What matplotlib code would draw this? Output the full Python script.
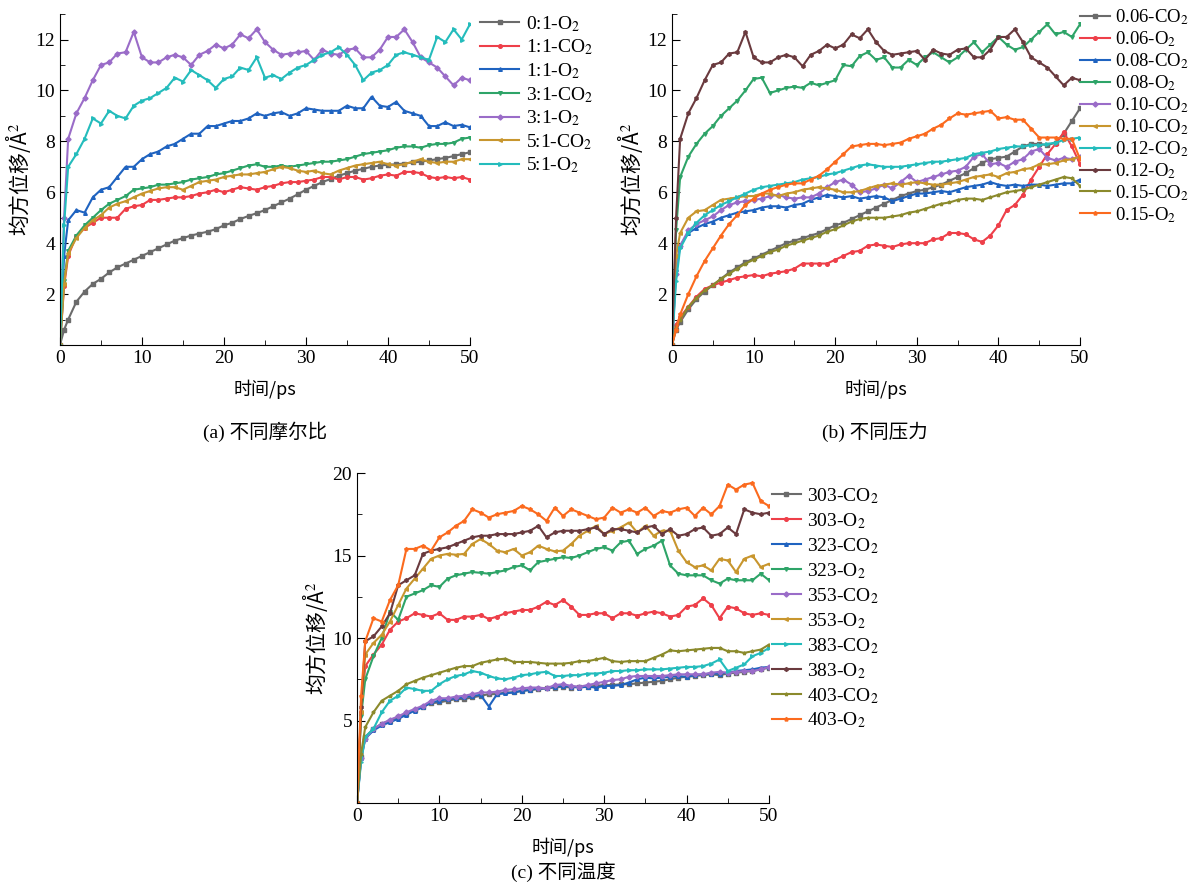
import matplotlib.pyplot as plt
from matplotlib.ticker import MultipleLocator

plt.rcParams['font.family'] = ['Liberation Serif', 'Noto Sans CJK SC']
plt.rcParams['mathtext.fontset'] = 'stix'

# 时间轴 (ps)
t = [0, 0.5] + list(range(1, 51))

# ---------- (a) 不同摩尔比 ----------
a_01_O2 = [0, 0.6, 1.0, 1.7, 2.1, 2.4, 2.6, 2.85, 3.05, 3.2, 3.35, 3.5, 3.65, 3.8, 3.95, 4.1, 4.2, 4.3,
           4.38, 4.45, 4.55, 4.7, 4.8, 4.95, 5.07, 5.18, 5.3, 5.45, 5.6, 5.75, 5.92, 6.1, 6.25, 6.4,
           6.52, 6.65, 6.75, 6.85, 6.92, 7.0, 7.05, 7.08, 7.1, 7.13, 7.17, 7.2, 7.25, 7.3, 7.35, 7.42,
           7.5, 7.57]
a_11_CO2 = [0, 2.3, 3.5, 4.3, 4.6, 4.8, 5.0, 5.0, 5.0, 5.35, 5.45, 5.5, 5.7, 5.7, 5.75, 5.8, 5.8, 5.85,
            5.95, 6.0, 6.1, 6.0, 6.1, 6.2, 6.15, 6.1, 6.2, 6.25, 6.35, 6.4, 6.4, 6.45, 6.5, 6.6, 6.6,
            6.5, 6.6, 6.6, 6.5, 6.55, 6.65, 6.7, 6.65, 6.8, 6.8, 6.75, 6.6, 6.55, 6.6, 6.55, 6.6, 6.5]
a_11_O2 = [0, 3.5, 4.9, 5.3, 5.2, 5.8, 6.1, 6.2, 6.6, 7.0, 7.0, 7.3, 7.5, 7.6, 7.8, 7.9, 8.1, 8.3,
           8.3, 8.6, 8.6, 8.7, 8.8, 8.8, 8.9, 9.1, 9.0, 9.1, 9.15, 9.0, 9.1, 9.3, 9.25, 9.2, 9.2, 9.2,
           9.4, 9.3, 9.3, 9.75, 9.4, 9.35, 9.55, 9.2, 9.1, 9.0, 8.6, 8.6, 8.75, 8.6, 8.65, 8.55]
a_31_CO2 = [0, 2.5, 3.7, 4.3, 4.7, 5.0, 5.3, 5.55, 5.7, 5.85, 6.1, 6.15, 6.2, 6.3, 6.3, 6.35, 6.4, 6.5,
            6.55, 6.6, 6.7, 6.75, 6.85, 6.95, 7.05, 7.1, 7.0, 7.0, 7.05, 7.0, 7.05, 7.1, 7.15, 7.2,
            7.2, 7.25, 7.3, 7.4, 7.5, 7.55, 7.6, 7.65, 7.75, 7.8, 7.8, 7.75, 7.85, 7.9, 7.9, 7.95, 8.1,
            8.15]
a_31_O2 = [0, 5.0, 8.1, 9.1, 9.7, 10.4, 11.0, 11.1, 11.45, 11.5, 12.3, 11.3, 11.1, 11.1, 11.3, 11.4,
           11.3, 11.0, 11.4, 11.55, 11.8, 11.65, 11.8, 12.2, 12.05, 12.4, 11.9, 11.6, 11.4, 11.45,
           11.5, 11.55, 11.2, 11.6, 11.45, 11.4, 11.6, 11.65, 11.3, 11.3, 11.6, 12.1, 12.1, 12.4,
           11.9, 11.3, 11.1, 10.9, 10.55, 10.2, 10.5, 10.4]
a_51_CO2 = [0, 2.4, 3.6, 4.2, 4.6, 4.9, 5.1, 5.4, 5.55, 5.65, 5.8, 5.95, 6.05, 6.15, 6.2, 6.2, 6.1,
            6.25, 6.4, 6.45, 6.5, 6.6, 6.65, 6.7, 6.7, 6.75, 6.8, 6.9, 7.0, 6.95, 6.85, 6.8, 6.85,
            6.75, 6.7, 6.85, 6.95, 7.05, 7.1, 7.15, 7.2, 7.1, 7.05, 7.1, 7.2, 7.3, 7.2, 7.15, 7.2, 7.2,
            7.3, 7.3]
a_51_O2 = [0, 4.7, 7.0, 7.5, 8.1, 8.9, 8.7, 9.2, 9.0, 8.9, 9.4, 9.6, 9.7, 9.9, 10.1, 10.5, 10.35,
           10.8, 10.6, 10.4, 10.1, 10.45, 10.55, 10.9, 10.8, 11.3, 10.5, 10.6, 10.45, 10.7, 10.9, 11.0,
           11.2, 11.4, 11.5, 11.7, 11.4, 11.0, 10.4, 10.7, 10.8, 11.0, 11.4, 11.5, 11.4, 11.3, 11.2,
           12.1, 11.9, 12.4, 12.0, 12.6]
labels_a = ['0:1-O$_2$', '1:1-CO$_2$', '1:1-O$_2$', '3:1-CO$_2$', '3:1-O$_2$', '5:1-CO$_2$', '5:1-O$_2$']

# ---------- (b) 不同压力 ----------
b_006_CO2 = [0, 0.6, 0.9, 1.4, 1.8, 2.1, 2.35, 2.6, 2.85, 3.05, 3.25, 3.4, 3.55, 3.7, 3.85, 4.0, 4.1,
             4.2, 4.3, 4.4, 4.55, 4.7, 4.8, 4.95, 5.1, 5.25, 5.4, 5.55, 5.7, 5.85, 5.95, 6.05, 6.1,
             6.2, 6.3, 6.45, 6.6, 6.75, 6.95, 7.15, 7.3, 7.35, 7.4, 7.6, 7.8, 7.9, 7.9, 7.85, 7.95,
             8.3, 8.8, 9.3]
b_006_O2 = [0, 0.8, 1.1, 1.5, 1.9, 2.2, 2.35, 2.45, 2.55, 2.65, 2.7, 2.75, 2.7, 2.8, 2.85, 2.9, 3.0,
            3.2, 3.2, 3.2, 3.2, 3.35, 3.5, 3.65, 3.7, 3.9, 3.95, 3.9, 3.85, 3.95, 4.0, 4.0, 4.0, 4.15,
            4.2, 4.4, 4.4, 4.35, 4.15, 4.05, 4.3, 4.7, 5.3, 5.5, 5.9, 6.5, 7.0, 7.5, 7.9, 8.35, 7.8,
            7.1]
b_008_CO2 = [0, 3.0, 3.9, 4.4, 4.6, 4.75, 4.85, 5.0, 5.1, 5.2, 5.25, 5.3, 5.4, 5.45, 5.45, 5.4, 5.5,
             5.55, 5.7, 5.8, 5.9, 5.85, 5.8, 5.85, 5.75, 5.8, 5.85, 5.8, 5.65, 5.75, 5.85, 5.95, 5.95,
             6.0, 6.05, 6.0, 6.1, 6.2, 6.25, 6.3, 6.4, 6.3, 6.25, 6.3, 6.25, 6.3, 6.3, 6.25, 6.3, 6.35,
             6.35, 6.5]
b_008_O2 = [0, 4.5, 6.6, 7.4, 7.9, 8.3, 8.6, 9.0, 9.3, 9.6, 10.0, 10.45, 10.5, 9.9, 10.0, 10.1,
            10.15, 10.1, 10.3, 10.2, 10.3, 10.4, 11.0, 10.95, 11.35, 11.5, 11.2, 11.3, 10.9, 10.9,
            11.2, 11.0, 11.3, 11.5, 11.3, 11.1, 11.3, 11.6, 11.9, 11.5, 11.8, 12.1, 11.8, 11.6, 11.7,
            12.0, 12.3, 12.6, 12.2, 12.3, 12.1, 12.6]
b_010_CO2 = [0, 2.8, 3.9, 4.5, 4.75, 4.9, 5.05, 5.3, 5.5, 5.6, 5.65, 5.7, 5.75, 5.85, 5.9, 5.8, 5.75,
             5.8, 5.8, 5.95, 6.2, 6.4, 6.5, 6.3, 6.0, 6.05, 6.15, 6.3, 6.15, 6.4, 6.65, 6.4, 6.5, 6.6,
             6.7, 6.8, 6.85, 7.0, 7.4, 7.5, 7.1, 7.15, 7.0, 7.2, 7.3, 7.6, 7.7, 7.35, 7.25, 7.35, 7.3,
             7.4]
b_010_CO2b = [0, 3.5, 4.4, 5.0, 5.25, 5.3, 5.5, 5.7, 5.75, 5.8, 5.85, 5.85, 5.95, 5.95, 5.85, 5.95,
              6.0, 6.1, 6.15, 6.2, 6.15, 6.1, 6.0, 6.0, 6.05, 6.15, 6.25, 6.3, 6.35, 6.3, 6.35, 6.4,
              6.35, 6.3, 6.3, 6.35, 6.4, 6.5, 6.6, 6.65, 6.7, 6.6, 6.75, 6.8, 6.9, 6.95, 7.1, 7.1,
              7.15, 7.25, 7.3, 7.4]
b_012_CO2 = [0, 2.5, 3.8, 4.4, 4.8, 5.1, 5.3, 5.5, 5.65, 5.8, 5.95, 6.1, 6.2, 6.25, 6.3, 6.35, 6.4,
             6.5, 6.55, 6.6, 6.7, 6.75, 6.85, 6.95, 7.05, 7.1, 7.05, 7.0, 7.0, 7.0, 7.05, 7.1, 7.15,
             7.2, 7.2, 7.25, 7.3, 7.35, 7.5, 7.55, 7.6, 7.7, 7.75, 7.8, 7.8, 7.85, 7.85, 7.9, 7.95,
             8.05, 8.1, 8.15]
b_012_O2 = [0, 5.0, 8.1, 9.1, 9.7, 10.4, 11.0, 11.1, 11.45, 11.5, 12.3, 11.3, 11.1, 11.1, 11.3,
            11.4, 11.3, 10.95, 11.4, 11.55, 11.8, 11.65, 11.8, 12.2, 12.05, 12.4, 11.9, 11.55, 11.4,
            11.45, 11.5, 11.55, 11.2, 11.6, 11.45, 11.4, 11.6, 11.65, 11.3, 11.3, 11.6, 12.1, 12.1,
            12.4, 11.9, 11.3, 11.1, 10.9, 10.55, 10.2, 10.5, 10.4]
b_015_CO2 = [0, 0.7, 1.0, 1.5, 1.85, 2.15, 2.35, 2.6, 2.8, 3.0, 3.2, 3.35, 3.5, 3.65, 3.75, 3.9,
             4.0, 4.1, 4.2, 4.3, 4.45, 4.55, 4.7, 4.85, 4.95, 5.0, 5.0, 5.0, 5.05, 5.1, 5.2, 5.25,
             5.35, 5.45, 5.55, 5.6, 5.7, 5.75, 5.75, 5.7, 5.8, 5.9, 6.0, 6.05, 6.1, 6.2, 6.3, 6.4,
             6.5, 6.6, 6.55, 6.25]
b_015_O2 = [0, 0.6, 1.2, 2.0, 2.7, 3.3, 3.8, 4.3, 4.75, 5.1, 5.5, 5.75, 5.95, 6.1, 6.2, 6.3, 6.35,
            6.35, 6.5, 6.65, 6.9, 7.2, 7.5, 7.8, 7.85, 7.9, 7.9, 7.85, 7.9, 7.95, 8.1, 8.2, 8.3, 8.5,
            8.65, 8.9, 9.1, 9.05, 9.1, 9.15, 9.2, 8.9, 8.95, 8.85, 8.85, 8.5, 8.15, 8.15, 8.15, 8.1,
            8.1, 7.3]
labels_b = ['0.06-CO$_2$', '0.06-O$_2$', '0.08-CO$_2$', '0.08-O$_2$', '0.10-CO$_2$', '0.10-CO$_2$',
            '0.12-CO$_2$', '0.12-O$_2$', '0.15-CO$_2$', '0.15-O$_2$']

# ---------- (c) 不同温度 ----------
c_303_CO2 = [0, 2.8, 4.0, 4.5, 4.8, 5.0, 5.2, 5.4, 5.65, 5.85, 6.05, 6.1, 6.2, 6.3, 6.3, 6.4, 6.5,
             6.6, 6.6, 6.7, 6.7, 6.8, 6.85, 6.9, 6.95, 7.0, 7.05, 7.0, 7.05, 7.05, 7.1, 7.15, 7.15,
             7.2, 7.2, 7.25, 7.3, 7.35, 7.4, 7.5, 7.6, 7.65, 7.7, 7.75, 7.8, 7.75, 7.85, 7.9, 7.95,
             8.0, 8.1, 8.2]
c_303_O2 = [0, 5.5, 8.3, 9.0, 9.6, 10.5, 11.0, 11.2, 11.5, 11.4, 11.3, 11.5, 11.1, 11.1, 11.3,
            11.3, 11.4, 11.15, 11.3, 11.5, 11.6, 11.7, 11.7, 11.9, 12.2, 12.0, 12.3, 11.9, 11.4,
            11.4, 11.5, 11.5, 11.2, 11.5, 11.5, 11.35, 11.5, 11.6, 11.5, 11.3, 11.4, 11.9, 12.0,
            12.4, 12.0, 11.2, 11.9, 11.8, 11.5, 11.4, 11.5, 11.4]
c_323_CO2 = [0, 2.7, 3.9, 4.4, 4.7, 4.9, 5.1, 5.35, 5.6, 5.8, 6.1, 6.2, 6.3, 6.35, 6.4, 6.5, 6.55,
             5.85, 6.6, 6.65, 6.7, 6.8, 6.85, 6.95, 6.95, 7.05, 7.1, 7.05, 7.0, 7.05, 7.0, 7.1, 7.1,
             7.15, 7.3, 7.5, 7.6, 7.55, 7.6, 7.65, 7.7, 7.65, 7.75, 7.8, 7.85, 7.85, 7.9, 8.0, 8.05,
             8.1, 8.2, 8.25]
c_323_O2 = [0, 5.3, 7.5, 8.9, 10.0, 11.6, 11.1, 12.5, 12.7, 12.9, 13.2, 13.1, 13.6, 13.8, 13.9,
            14.0, 13.95, 13.9, 14.0, 14.1, 14.3, 14.4, 14.1, 14.6, 14.7, 14.8, 14.9, 14.85, 15.0,
            15.2, 15.4, 15.5, 15.3, 15.8, 15.9, 15.1, 15.4, 15.6, 15.9, 14.4, 13.9, 13.8, 13.8, 13.8,
            13.5, 13.3, 13.6, 13.5, 13.5, 13.5, 13.9, 13.5]
c_353_CO2 = [0, 2.7, 3.9, 4.5, 4.8, 5.05, 5.25, 5.5, 5.7, 5.9, 6.2, 6.35, 6.35, 6.45, 6.5, 6.6,
             6.7, 6.7, 6.75, 6.85, 6.9, 6.95, 7.0, 7.0, 6.95, 7.15, 7.2, 7.1, 7.05, 7.15, 7.25, 7.35,
             7.45, 7.5, 7.65, 7.7, 7.7, 7.7, 7.7, 7.75, 7.8, 7.8, 7.8, 7.8, 7.9, 7.95, 7.9, 7.95, 8.0,
             8.0, 8.1, 8.25]
c_353_O2 = [0, 5.5, 9.0, 9.7, 10.2, 11.0, 12.0, 13.0, 13.6, 14.2, 14.8, 15.0, 15.1, 15.05, 15.1,
            15.7, 16.0, 15.7, 15.3, 15.2, 15.4, 15.0, 15.2, 15.6, 15.4, 15.25, 15.3, 15.7, 16.2,
            16.5, 16.8, 16.3, 16.5, 16.7, 17.0, 16.4, 16.8, 16.2, 16.5, 16.5, 15.3, 14.6, 14.3, 14.4,
            14.1, 14.8, 14.7, 14.0, 14.8, 15.0, 14.3, 14.5]
c_383_CO2 = [0, 2.5, 4.0, 4.5, 5.5, 6.2, 6.5, 7.0, 6.9, 6.8, 6.8, 7.2, 7.5, 7.7, 7.8, 8.0, 7.9,
             7.7, 7.55, 7.5, 7.6, 7.75, 7.8, 7.9, 7.95, 7.7, 7.7, 7.75, 7.75, 7.85, 7.85, 7.9, 8.0,
             8.0, 8.05, 8.05, 8.1, 8.1, 8.1, 8.15, 8.2, 8.25, 8.25, 8.3, 8.45, 8.7, 8.0, 8.2, 8.4,
             8.9, 9.1, 9.4]
c_383_O2 = [0, 5.8, 9.8, 10.1, 10.7, 11.5, 13.2, 13.5, 13.8, 15.1, 15.3, 15.4, 15.5, 15.7, 15.9,
            16.1, 16.2, 16.2, 16.3, 16.3, 16.3, 16.4, 16.5, 16.8, 16.1, 16.4, 16.5, 16.5, 16.5, 16.6,
            16.7, 16.3, 16.6, 16.6, 16.5, 16.4, 16.7, 16.8, 16.3, 16.6, 16.2, 16.3, 16.6, 16.7, 16.2,
            16.3, 16.7, 16.3, 17.8, 17.6, 17.5, 17.6]
c_403_CO2 = [0, 3.0, 4.6, 5.5, 6.2, 6.5, 6.8, 7.2, 7.4, 7.6, 7.75, 7.9, 8.05, 8.2, 8.3, 8.3, 8.5,
             8.6, 8.7, 8.75, 8.55, 8.55, 8.55, 8.5, 8.45, 8.45, 8.45, 8.5, 8.6, 8.6, 8.7, 8.8, 8.6,
             8.55, 8.6, 8.6, 8.6, 8.8, 9.0, 9.25, 9.2, 9.25, 9.3, 9.35, 9.4, 9.4, 9.2, 9.2, 9.1, 9.2,
             9.3, 9.6]
c_403_O2 = [0, 6.5, 9.8, 11.2, 11.0, 12.3, 13.2, 15.4, 15.4, 15.6, 15.3, 16.1, 16.4, 16.8, 17.1,
            17.8, 17.6, 17.3, 17.5, 17.6, 17.7, 18.0, 17.8, 17.5, 17.1, 17.9, 17.4, 17.8, 17.6, 17.4,
            17.2, 17.3, 17.9, 17.6, 17.8, 17.6, 17.9, 17.4, 17.7, 17.6, 17.8, 17.9, 17.4, 17.9, 17.5,
            18.0, 19.3, 19.0, 19.3, 19.4, 18.3, 18.0]
labels_c = ['303-CO$_2$', '303-O$_2$', '323-CO$_2$', '323-O$_2$', '353-CO$_2$', '353-O$_2$',
            '383-CO$_2$', '383-O$_2$', '403-CO$_2$', '403-O$_2$']

# Origin 风格颜色和符号
colors = ['#6b6b6b', '#ee3f49', '#1f63c0', '#2ea468', '#9a6cc8', '#c8962e', '#24bcbc',
          '#6a3a3e', '#8b8a2c', '#fb6a1e']
markers = ['s', 'o', '^', 'v', 'D', '<', '>', 'h', '*', 'p']

cjk = ['Noto Sans CJK SC', 'DejaVu Sans']
tickSize = 14

fig = plt.figure(figsize=(11.9, 8.84), dpi=100)


def draw(ax, series, labels, ymax, yminor, yticks, leg):
    for i, ys in enumerate(series):
        ax.plot(t, ys, '-', color=colors[i], marker=markers[i], ms=2.6, lw=1.5,
                mec=colors[i], label=labels[i])
    ax.set_xlim(0, 50)
    ax.set_ylim(0, ymax)
    ax.spines['top'].set_visible(False)
    ax.spines['right'].set_visible(False)
    ax.xaxis.set_major_locator(MultipleLocator(10))
    ax.xaxis.set_minor_locator(MultipleLocator(5))
    ax.yaxis.set_minor_locator(MultipleLocator(yminor))
    ax.set_yticks(yticks)
    ax.tick_params(which='both', direction='in', labelsize=tickSize)
    ax.tick_params(which='major', length=6)
    ax.tick_params(which='minor', length=3.5)
    ax.set_xlabel('时间/ps', fontsize=13, family=cjk, labelpad=9)
    ax.set_ylabel('均方位移/Å$^2$', fontsize=15, family=cjk, labelpad=2)
    ax.legend(loc='upper left', frameon=False, borderpad=0, borderaxespad=0, **leg)


ax1 = fig.add_axes([0.0504, 0.6097, 0.3445, 0.3744])
draw(ax1, [a_01_O2, a_11_CO2, a_11_O2, a_31_CO2, a_31_O2, a_51_CO2, a_51_O2], labels_a,
     13, 1, [2, 4, 6, 8, 10, 12],
     dict(bbox_to_anchor=(1.025, 1.0), fontsize=14, handlelength=2.0, handletextpad=0.35,
          labelspacing=0.2))

ax2 = fig.add_axes([0.5647, 0.6097, 0.3429, 0.3744])
draw(ax2, [b_006_CO2, b_006_O2, b_008_CO2, b_008_O2, b_010_CO2, b_010_CO2b, b_012_CO2, b_012_O2,
           b_015_CO2, b_015_O2], labels_b, 13, 1, [2, 4, 6, 8, 10, 12],
     dict(bbox_to_anchor=(1.0, 1.02), fontsize=13.5, handlelength=1.6, handletextpad=0.25,
          labelspacing=0.12))

ax3 = fig.add_axes([0.3, 0.0916, 0.3462, 0.3733])
draw(ax3, [c_303_CO2, c_303_O2, c_323_CO2, c_323_O2, c_353_CO2, c_353_O2, c_383_CO2, c_383_O2,
           c_403_CO2, c_403_O2], labels_c, 20, 2.5, [5, 10, 15, 20],
     dict(bbox_to_anchor=(1.007, 0.96), fontsize=14, handlelength=1.5, handletextpad=0.3,
          labelspacing=0.27))

capfont = ['Liberation Serif', 'Noto Sans CJK SC']
fig.text(265 / 1190, 1 - 432 / 884, '(a) 不同摩尔比', ha='center', va='center', fontsize=14,
         family=capfont)
fig.text(875 / 1190, 1 - 432 / 884, '(b) 不同压力', ha='center', va='center', fontsize=14,
         family=capfont)
fig.text(563 / 1190, 1 - 872 / 884, '(c) 不同温度', ha='center', va='center', fontsize=14,
         family=capfont)

fig.savefig('out.png', dpi=100)
